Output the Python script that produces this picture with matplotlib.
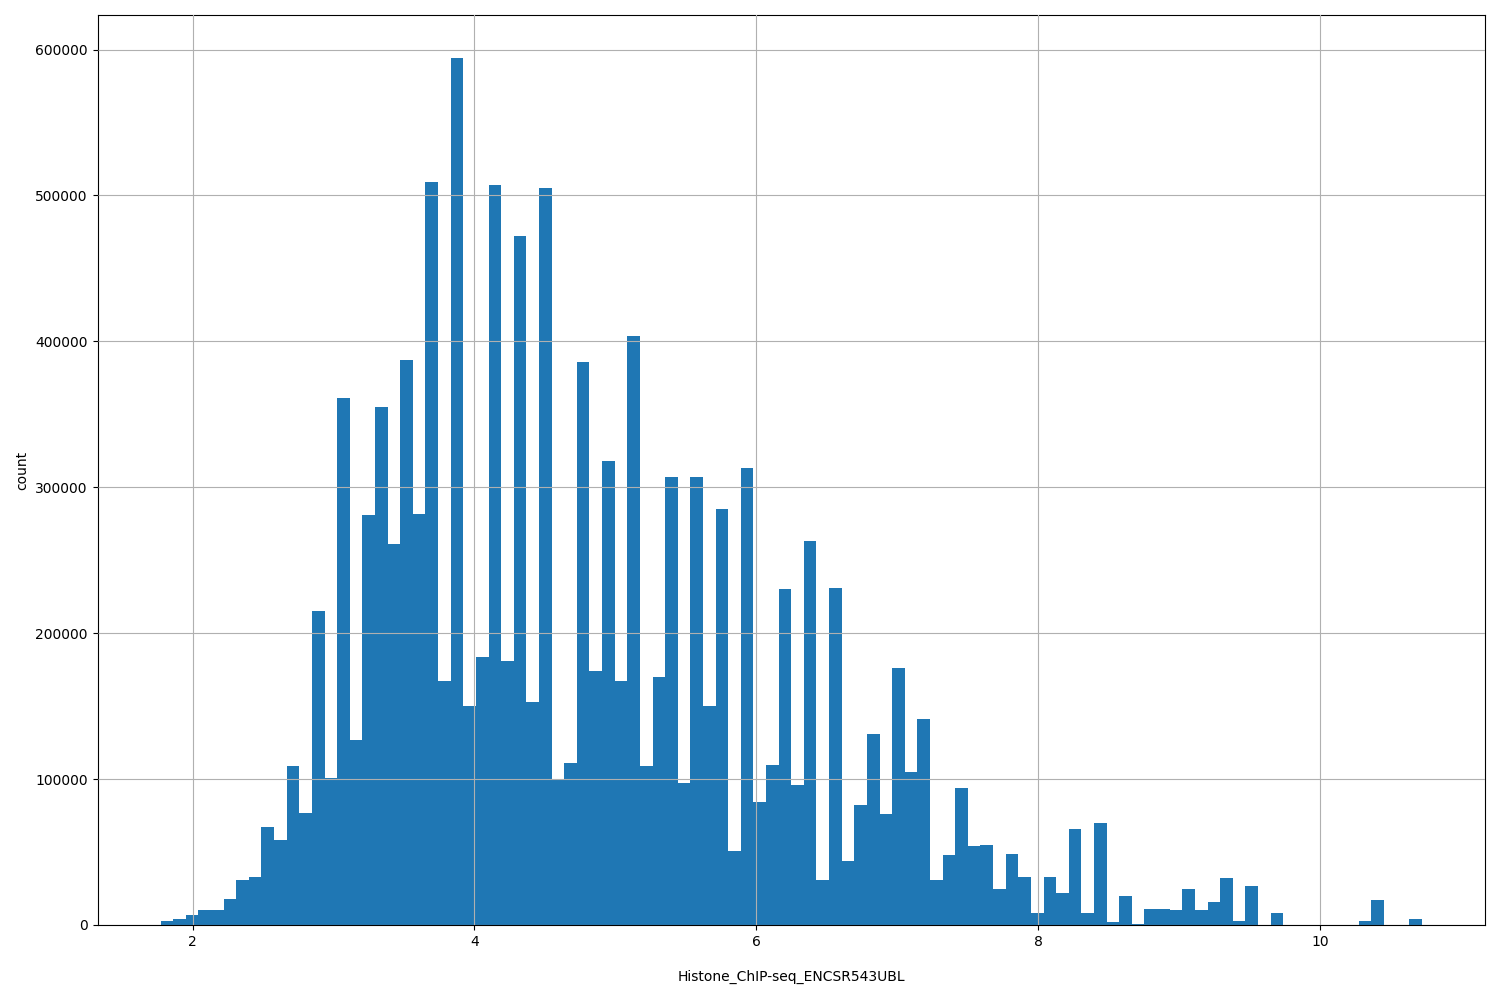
import matplotlib
matplotlib.use("Agg")
import matplotlib.pyplot as plt
import numpy as np

# histogram range and bin count
x_min = 1.773
x_max = 10.723
n_bins = 100

counts = [
    3000, 4000, 7000, 10000, 10000, 18000, 31000, 33000, 67000, 58000,
    109000, 77000, 215000, 101000, 361000, 127000, 281000, 355000, 261000, 387000,
    282000, 509000, 167000, 594000, 150000, 184000, 507000, 181000, 472000, 153000,
    505000, 100000, 111000, 386000, 174000, 318000, 167000, 404000, 109000, 170000,
    307000, 97000, 307000, 150000, 285000, 51000, 313000, 84000, 110000, 230000,
    96000, 263000, 31000, 231000, 44000, 82000, 131000, 76000, 176000, 105000,
    141000, 31000, 48000, 94000, 54000, 55000, 25000, 49000, 33000, 8000,
    33000, 22000, 66000, 8000, 70000, 2000, 20000, 1000, 11000, 11000,
    10000, 25000, 10000, 16000, 32000, 3000, 27000, 0, 8000, 0,
    0, 0, 0, 0, 0, 3000, 17000, 0, 0, 4000,
]

edges = np.linspace(x_min, x_max, n_bins + 1)
centers = (edges[:-1] + edges[1:]) / 2

fig, ax = plt.subplots(figsize=(15, 10), dpi=100)
ax.hist(centers, bins=edges, weights=counts, color="#1f77b4")
ax.grid(True)
ax.set_axisbelow(False)
ax.set_xlabel("Histone_ChIP-seq_ENCSR543UBL", labelpad=15)
ax.set_ylabel("count")

plt.subplots_adjust(left=0.065, right=0.99, top=0.985, bottom=0.075)
plt.savefig("out.png")
